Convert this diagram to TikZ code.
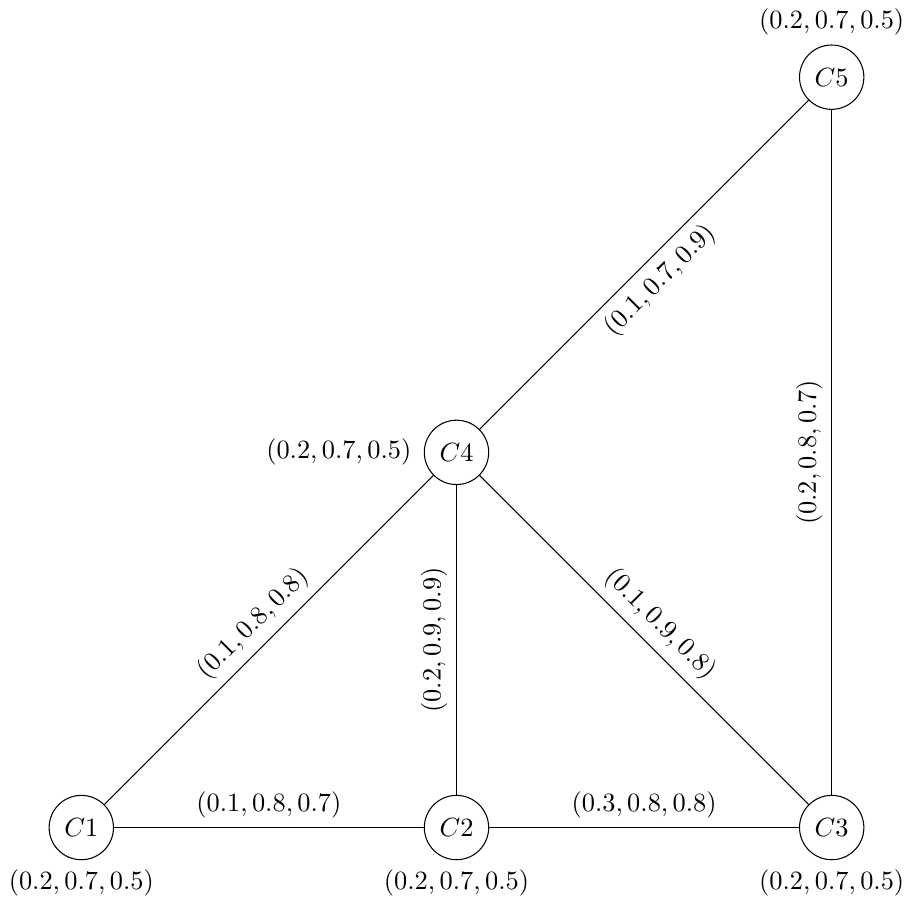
\documentclass[tikz,border=0pt]{standalone}
\begin{document}
\begin{tikzpicture}[
  cnode/.style={circle, draw, minimum size=24.4pt, inner sep=0pt},
  edge/.style={draw, line width=0.4pt}
]
\node[cnode, label=below:{$(0.2, 0.7, 0.5)$}] (C1) at (0,0) {$C1$};
\node[cnode, label=below:{$(0.2, 0.7, 0.5)$}] (C2) at (5,0) {$C2$};
\node[cnode, label=below:{$(0.2, 0.7, 0.5)$}] (C3) at (10,0) {$C3$};
\node[cnode, label={[label distance=1.2pt]left:{$(0.2, 0.7, 0.5)$}}] (C4) at (5,5) {$C4$};
\node[cnode, label=above:{$(0.2, 0.7, 0.5)$}] (C5) at (10,10) {$C5$};

\path[edge] (C1) -- node[above] {$(0.1, 0.8, 0.7)$} (C2);
\path[edge] (C2) -- node[above] {$(0.3, 0.8, 0.8)$} (C3);
\path[edge] (C1) -- node[sloped, above] {$(0.1, 0.8, 0.8)$} (C4);
\path[edge] (C2) -- node[sloped, above] {$(0.2, 0.9, 0.9)$} (C4);
\path[edge] (C4) -- node[sloped, above] {$(0.1, 0.9, 0.8)$} (C3);
\path[edge] (C4) -- node[sloped, below] {$(0.1, 0.7, 0.9)$} (C5);
\path[edge] (C3) -- node[sloped, above] {$(0.2, 0.8, 0.7)$} (C5);
\end{tikzpicture}
\end{document}
